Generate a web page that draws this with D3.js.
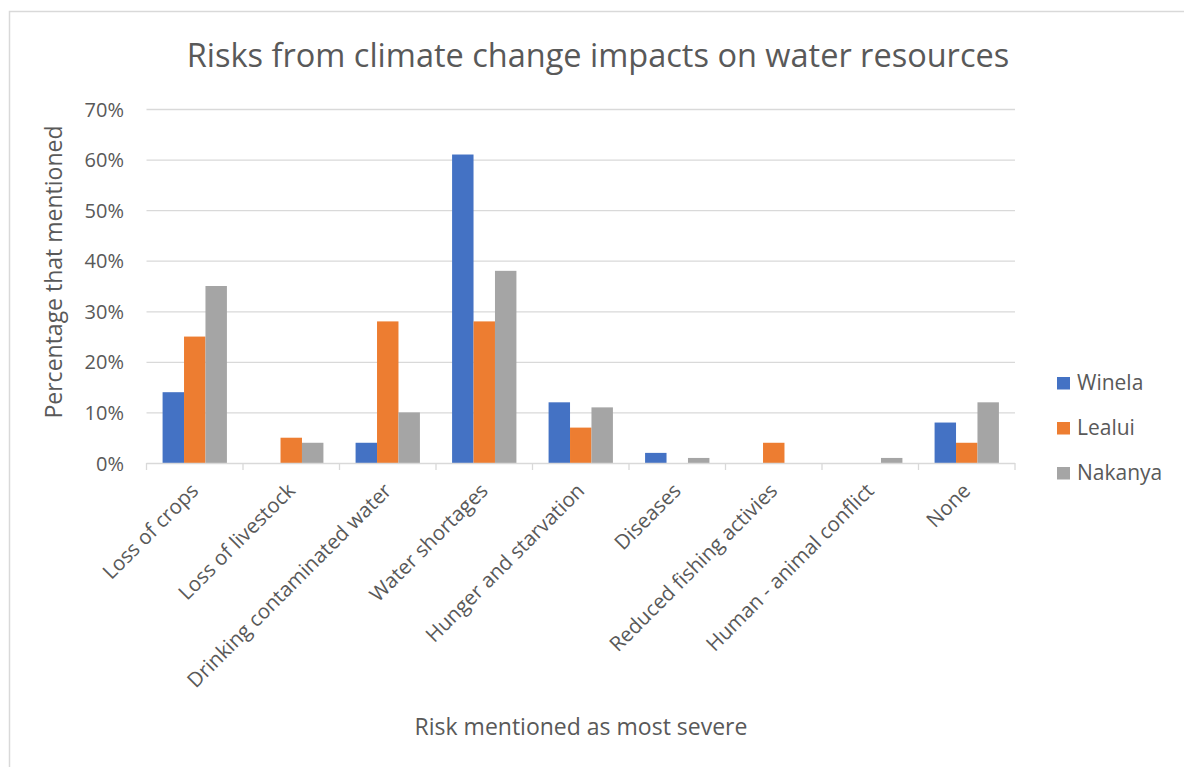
<!DOCTYPE html>
<html>
<head>
<meta charset="utf-8">
<script src="https://cdn.jsdelivr.net/npm/d3@7"></script>
<style>
  html, body { margin: 0; padding: 0; background: #fff; }
  svg { display: block; font-family: "Open Sans", "Noto Sans", sans-serif; }
</style>
</head>
<body>
<svg id="chart" width="1184" height="767"></svg>
<script>
const categories = [
  "Loss of crops", "Loss of livestock", "Drinking contaminated water",
  "Water shortages", "Hunger and starvation", "Diseases",
  "Reduced fishing activies", "Human - animal conflict", "None"
];
const seriesNames = ["Winela", "Lealui", "Nakanya"];
const winela  = [14, 0, 4, 61, 12, 2, 0, 0, 8];
const lealui  = [25, 5, 28, 28, 7, 0, 4, 0, 4];
const nakanya = [35, 4, 10, 38, 11, 1, 0, 1, 12];
const yTicks = [0, 10, 20, 30, 40, 50, 60, 70];
const colors = ["#4472C4", "#ED7D31", "#A5A5A5"];

const seriesValues = [winela, lealui, nakanya];
const rows = categories.map((c, i) => ({
  category: c,
  values: seriesNames.map((s, j) => ({ series: s, value: seriesValues[j][i] }))
}));

const svg = d3.select("#chart");
const textColor = "#595959";

// chart frame
svg.append("rect")
  .attr("x", 9.5).attr("y", 11.5)
  .attr("width", 1200).attr("height", 800)
  .attr("fill", "none").attr("stroke", "#D9D9D9").attr("stroke-width", 1.5);

const plot = { left: 146.5, right: 1015, top: 109, bottom: 463 };

const x = d3.scaleBand().domain(categories).range([plot.left, plot.right]).paddingInner(0).paddingOuter(0);
const x1 = d3.scaleBand().domain(seriesNames).range([0, x.bandwidth()]).paddingOuter(0.75).paddingInner(0);
const y = d3.scaleLinear().domain([0, 70]).range([plot.bottom, plot.top]);

// gridlines
svg.append("g")
  .selectAll("line")
  .data(yTicks.filter(t => t > 0))
  .join("line")
  .attr("x1", plot.left).attr("x2", plot.right)
  .attr("y1", d => y(d) + 0.5).attr("y2", d => y(d) + 0.5)
  .attr("stroke", "#D9D9D9").attr("stroke-width", 1.3);

// bars
svg.append("g")
  .selectAll("g")
  .data(rows)
  .join("g")
  .attr("transform", d => `translate(${x(d.category)},0)`)
  .selectAll("rect")
  .data(d => d.values.filter(v => v.value > 0))
  .join("rect")
  .attr("x", d => x1(d.series))
  .attr("width", x1.bandwidth())
  .attr("y", d => y(d.value))
  .attr("height", d => y(0) - y(d.value))
  .attr("fill", (d) => colors[seriesNames.indexOf(d.series)]);

// x axis with ticks at category boundaries
const xAxisG = svg.append("g").attr("transform", `translate(0,${plot.bottom})`);
xAxisG.append("line")
  .attr("x1", plot.left).attr("x2", plot.right)
  .attr("y1", 0.5).attr("y2", 0.5)
  .attr("stroke", "#D9D9D9").attr("stroke-width", 1.3);
const boundaries = categories.map(c => x(c)).concat([plot.right]);
xAxisG.selectAll("line.tick")
  .data(boundaries)
  .join("line")
  .attr("class", "tick")
  .attr("x1", d => d).attr("x2", d => d)
  .attr("y1", 0).attr("y2", 7)
  .attr("stroke", "#D9D9D9").attr("stroke-width", 1.3);

xAxisG.selectAll("text")
  .data(categories)
  .join("text")
  .attr("transform", d => `translate(${x(d) + x.bandwidth() / 2 + 5},${29}) rotate(-45)`)
  .attr("text-anchor", "end")
  .attr("fill", textColor)
  .attr("font-size", 20.5)
  .text(d => d);

// y axis labels
const yAxis = d3.axisLeft(y).tickValues(yTicks).tickFormat(d => d + "%").tickSize(0).tickPadding(0);
const yAxisG = svg.append("g").attr("transform", `translate(124,0)`).call(yAxis);
yAxisG.select(".domain").remove();
yAxisG.selectAll("text")
  .attr("fill", textColor)
  .attr("font-size", 20)
  .attr("font-family", "\"Open Sans\", \"Noto Sans\", sans-serif")
  .attr("dy", "0.35em");

// title
svg.append("text")
  .attr("x", 598).attr("y", 67)
  .attr("text-anchor", "middle")
  .attr("fill", textColor)
  .attr("font-size", 32.5)
  .text("Risks from climate change impacts on water resources");

// axis titles
svg.append("text")
  .attr("transform", "translate(62,272) rotate(-90)")
  .attr("text-anchor", "middle")
  .attr("fill", textColor)
  .attr("font-size", 23)
  .text("Percentage that mentioned");

svg.append("text")
  .attr("x", 581).attr("y", 735)
  .attr("text-anchor", "middle")
  .attr("fill", textColor)
  .attr("font-size", 23)
  .text("Risk mentioned as most severe");

// legend
const legend = svg.append("g")
  .selectAll("g")
  .data(seriesNames)
  .join("g")
  .attr("transform", (d, i) => `translate(1057,${377 + i * 45})`);
legend.append("rect")
  .attr("width", 13).attr("height", 12.5)
  .attr("fill", (d, i) => colors[i]);
legend.append("text")
  .attr("x", 20).attr("y", 12.5)
  .attr("fill", textColor)
  .attr("font-size", 21)
  .text(d => d);
</script>
</body>
</html>
